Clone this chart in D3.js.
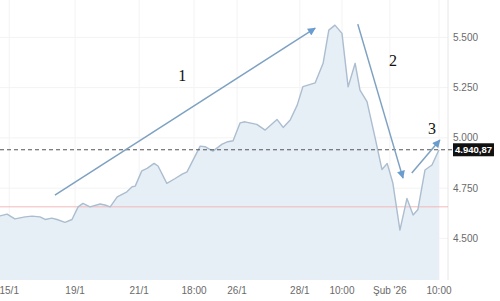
<!DOCTYPE html>
<html>
<head>
<meta charset="utf-8">
<script src="https://cdn.jsdelivr.net/npm/d3@7"></script>
<style>
  body { margin: 0; background: #fff; }
  svg { display: block; font-family: "Liberation Sans", Arial, sans-serif; }
</style>
</head>
<body>
<svg id="chart" width="500" height="301"></svg>
<script>
// session position (0..100) and index level
const times = [0, 1.6, 3.4, 5.7, 7.3, 9.1, 10.3, 11.8, 13.0, 14.8, 16.4, 17.8, 18.9, 20.5,
  22.8, 23.9, 25.1, 26.7, 28.9, 30.1, 30.8, 32.3, 33.5, 35.1, 36.0, 38.0, 39.9, 41.5, 42.6,
  45.6, 46.7, 48.5, 50.6, 51.9, 53.1, 54.7, 55.8, 58.5, 60.4, 63.1, 64.5, 66.1, 67.7, 69.0,
  71.8, 73.6, 74.9, 76.3, 77.9, 78.6, 79.3, 80.9, 82.0, 83.6, 85.4, 87.0, 88.2, 89.5, 91.1,
  92.7, 94.1, 95.2, 96.8, 98.4, 100];
const values = [4612, 4621, 4597, 4607, 4611, 4607, 4594, 4601, 4594, 4580, 4594, 4657, 4674, 4657,
  4671, 4666, 4657, 4707, 4732, 4757, 4760, 4836, 4848, 4873, 4860, 4774, 4798, 4820, 4831,
  4959, 4956, 4934, 4969, 4981, 4986, 5075, 5080, 5067, 5039, 5092, 5052, 5089, 5163, 5255,
  5274, 5371, 5536, 5561, 5520, 5387, 5254, 5371, 5238, 5180, 5005, 4843, 4873, 4774, 4541,
  4699, 4616, 4644, 4840, 4865, 4940.87];

const xTickPos = [2.1, 17.1, 31.7, 44.2, 54.0, 68.3, 77.9, 88.8, 100];
const xTickLabels = ['15/1', '19/1', '21/1', '18:00', '26/1', '28/1', '10:00', 'Şub \'26', '10:00'];
const yTicks = [4500, 4750, 5000, 5250, 5500];

const lastValue = 4940.87;
const prevClose = 4657;

// hand-drawn annotation arrows: [t0, v0, t1, v1]
const arrows = [
  [12.5, 4715, 71.8, 5546],
  [81.5, 5566, 91.8, 4800],
  [93.8, 4825, 100.2, 4989],
];
const arrowLabels = [
  { text: '1', t: 41.5, v: 5313 },
  { text: '2', t: 89.5, v: 5387 },
  { text: '3', t: 98.4, v: 5049 },
];

const fmtY = d3.formatLocale({ decimal: ',', thousands: '.', grouping: [3], currency: ['', ''] });
const yFmt = fmtY.format(',.3~f');
const lastFmt = fmtY.format(',.2f');

const svg = d3.select('#chart');
const plotRight = 448;
const plotBottom = 280;

const x = d3.scaleLinear().domain([0, 100]).range([0, 439]);
const y = d3.scaleLinear().domain([4293, 5686]).range([plotBottom, 0]);

const data = times.map((t, i) => ({ t, v: values[i] }));

// grid
svg.append('g')
  .selectAll('line')
  .data(xTickPos)
  .join('line')
    .attr('x1', d => x(d)).attr('x2', d => x(d))
    .attr('y1', 0).attr('y2', plotBottom)
    .attr('stroke', '#f3f3f3');

svg.append('g')
  .selectAll('line')
  .data(yTicks)
  .join('line')
    .attr('x1', 0).attr('x2', plotRight)
    .attr('y1', d => y(d)).attr('y2', d => y(d))
    .attr('stroke', '#f3f3f3');

svg.append('line')
  .attr('x1', plotRight).attr('x2', plotRight)
  .attr('y1', 0).attr('y2', plotBottom)
  .attr('stroke', '#e6e6e6');

// area + line
const area = d3.area()
  .x(d => x(d.t))
  .y0(plotBottom)
  .y1(d => y(d.v));

const line = d3.line()
  .x(d => x(d.t))
  .y(d => y(d.v));

svg.append('path')
  .attr('d', area(data))
  .attr('fill', '#e6eef6');

// previous close line
svg.append('line')
  .attr('x1', 0).attr('x2', plotRight)
  .attr('y1', y(prevClose)).attr('y2', y(prevClose))
  .attr('stroke', '#f2b8b8')
  .attr('stroke-width', 1);

svg.append('path')
  .attr('d', line(data))
  .attr('fill', 'none')
  .attr('stroke', '#abbdcf')
  .attr('stroke-width', 1.4)
  .attr('stroke-linejoin', 'round');

// last value dashed line
svg.append('line')
  .attr('x1', 0).attr('x2', 452)
  .attr('y1', y(lastValue)).attr('y2', y(lastValue))
  .attr('stroke', '#555')
  .attr('stroke-width', 1.2)
  .attr('stroke-dasharray', '4,3');

// axes labels
svg.append('g')
  .selectAll('text')
  .data(yTicks)
  .join('text')
    .attr('x', 453)
    .attr('y', d => y(d))
    .attr('dy', '0.35em')
    .attr('font-size', 10)
    .attr('fill', '#6a6a6a')
    .text(d => yFmt(d));

svg.append('g')
  .selectAll('text')
  .data(xTickPos)
  .join('text')
    .attr('x', d => x(d))
    .attr('y', 294)
    .attr('text-anchor', 'middle')
    .attr('font-size', 10)
    .attr('fill', '#6a6a6a')
    .text((d, i) => xTickLabels[i]);

// last value badge
const badge = svg.append('g');
const badgeText = badge.append('text')
  .attr('x', 455)
  .attr('y', y(lastValue))
  .attr('dy', '0.35em')
  .attr('font-size', 9.5)
  .attr('font-weight', 'bold')
  .attr('fill', '#fff')
  .text(lastFmt(lastValue));
const bb = badgeText.node().getBBox();
badge.insert('rect', 'text')
  .attr('x', bb.x - 2)
  .attr('y', y(lastValue) - 6.5)
  .attr('width', bb.width + 4)
  .attr('height', 13)
  .attr('fill', '#111');

// annotations
const defs = svg.append('defs');
defs.append('marker')
  .attr('id', 'head')
  .attr('viewBox', '0 0 10 10')
  .attr('refX', 9).attr('refY', 5)
  .attr('markerWidth', 9).attr('markerHeight', 8)
  .attr('markerUnits', 'userSpaceOnUse')
  .attr('orient', 'auto')
  .append('path')
    .attr('d', 'M0,0 L10,5 L0,10 z')
    .attr('fill', '#6a9dcf');

svg.append('g')
  .selectAll('line')
  .data(arrows)
  .join('line')
    .attr('x1', d => x(d[0])).attr('y1', d => y(d[1]))
    .attr('x2', d => x(d[2])).attr('y2', d => y(d[3]))
    .attr('stroke', '#7ea1c2')
    .attr('stroke-width', 1.5)
    .attr('marker-end', 'url(#head)');

svg.append('g')
  .selectAll('text')
  .data(arrowLabels)
  .join('text')
    .attr('x', d => x(d.t))
    .attr('y', d => y(d.v))
    .attr('dy', '0.35em')
    .attr('text-anchor', 'middle')
    .attr('font-family', '"Liberation Serif", "Times New Roman", serif')
    .attr('font-size', 16)
    .attr('fill', '#111')
    .text(d => d.text);
</script>
</body>
</html>
